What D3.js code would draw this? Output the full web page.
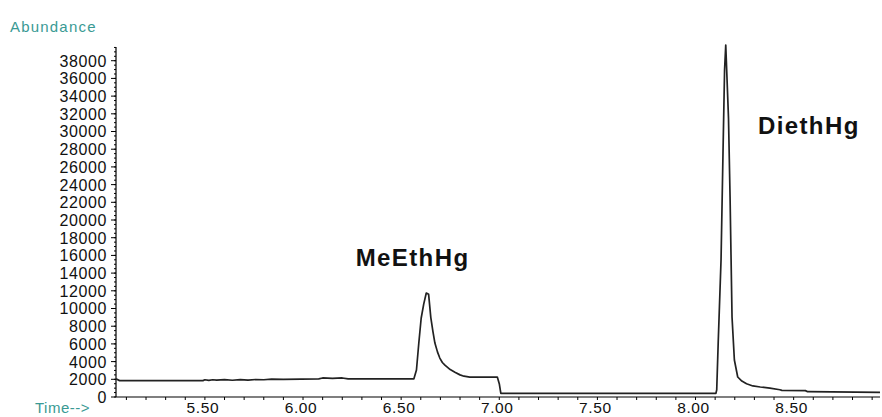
<!DOCTYPE html>
<html>
<head>
<meta charset="utf-8">
<script src="https://cdn.jsdelivr.net/npm/d3@7/dist/d3.min.js"></script>
<style>
  html, body { margin: 0; padding: 0; background: #fff; }
  svg { display: block; }
</style>
</head>
<body>
<svg id="chart" width="882" height="417"></svg>
<script>
// ---- data ----
const times = [
  5.047, 5.065, 5.490, 5.500, 5.520, 5.540, 5.560, 5.600, 5.640, 5.680, 5.720, 5.760,
  5.800, 5.840, 5.900, 6.080, 6.100, 6.150, 6.200, 6.230, 6.565,
  6.578, 6.590, 6.602, 6.615, 6.628, 6.640, 6.651, 6.662, 6.672, 6.685, 6.697, 6.710,
  6.723, 6.750, 6.774, 6.800, 6.820, 6.850, 6.990, 7.000, 7.008, 7.014,
  8.104, 8.108, 8.116, 8.130, 8.140, 8.148, 8.154, 8.168, 8.176, 8.186, 8.198, 8.215,
  8.236, 8.260, 8.292, 8.330, 8.379, 8.430, 8.440, 8.560, 8.571, 8.940
];
const abundance = [
  2050, 1850, 1850, 1950, 1880, 1950, 1900, 1960, 1890, 1960, 1900, 1980,
  1950, 2020, 2000, 2050, 2150, 2100, 2150, 2050, 2050,
  3050, 6100, 8900, 10500, 11750, 11600, 9000, 7400, 6100, 5100, 4400, 3900,
  3600, 3100, 2800, 2500, 2350, 2250, 2250, 1500, 420, 420,
  420, 800, 6440, 15480, 27570, 36950, 39770, 31520, 22600, 9040, 4180, 2260,
  1800, 1500, 1250, 1130, 1000, 820, 750, 720, 600, 520
];
const yTickValues = d3.range(0, 38001, 2000);
const yMinorValues = d3.range(0, 39501, 500);
const xTickValues = [5.5, 6.0, 6.5, 7.0, 7.5, 8.0, 8.5];
const xMinorValues = d3.range(51, 90).map(d => d / 10);
const peakLabels = ["MeEthHg", "DiethHg"];
const peakLabelTimes = [6.63, 8.16];
const peakLabelValues = [14800, 29700];

(function () {
// ---- layout ----
const svg = d3.select("#chart");
const mLeft = 116, mRight = 880, mTop = 47, mBottom = 397;
const teal = "#3a9a94";

const x = d3.scaleLinear().domain([5.047, 8.94]).range([mLeft, mRight]);
const y = d3.scaleLinear().domain([0, 39550]).range([mBottom, mTop]);

// y axis
const yAxis = svg.append("g").attr("transform", `translate(${mLeft},0)`);
yAxis.append("line").attr("x1", 0).attr("x2", 0).attr("y1", mTop).attr("y2", mBottom)
  .attr("stroke", "#000").attr("stroke-width", 1.2);
yAxis.selectAll("line.minor").data(yMinorValues).enter().append("line")
  .attr("class", "minor")
  .attr("x1", -2).attr("x2", 0)
  .attr("y1", d => y(d)).attr("y2", d => y(d))
  .attr("stroke", "#000").attr("stroke-width", 1);
yAxis.selectAll("line.major").data(yTickValues).enter().append("line")
  .attr("class", "major")
  .attr("x1", -5).attr("x2", 0)
  .attr("y1", d => y(d)).attr("y2", d => y(d))
  .attr("stroke", "#000").attr("stroke-width", 1);
yAxis.selectAll("text").data(yTickValues).enter().append("text")
  .attr("x", -9).attr("y", d => y(d))
  .attr("dy", "0.37em")
  .attr("text-anchor", "end")
  .attr("font-family", "Liberation Sans, Arial, sans-serif")
  .attr("font-size", 16)
  .attr("letter-spacing", 0.6)
  .attr("fill", "#111")
  .text(d => String(d));

// x axis
const xAxis = svg.append("g").attr("transform", `translate(0,${mBottom})`);
xAxis.append("line").attr("x1", mLeft).attr("x2", mRight).attr("y1", 0).attr("y2", 0)
  .attr("stroke", "#000").attr("stroke-width", 1.2);
xAxis.selectAll("line.tick").data(xMinorValues).enter().append("line")
  .attr("class", "tick")
  .attr("x1", d => x(d)).attr("x2", d => x(d))
  .attr("y1", 0).attr("y2", 3)
  .attr("stroke", "#000").attr("stroke-width", 1);
xAxis.selectAll("text").data(xTickValues).enter().append("text")
  .attr("x", d => x(d) - 2).attr("y", 16)
  .attr("text-anchor", "middle")
  .attr("font-family", "Liberation Sans, Arial, sans-serif")
  .attr("font-size", 15.5)
  .attr("letter-spacing", 0.6)
  .attr("fill", "#111")
  .text(d => d.toFixed(2));

// trace
const pts = times.map((t, i) => [t, abundance[i]]);
const line = d3.line().x(d => x(d[0])).y(d => y(d[1]));
svg.append("path").datum(pts)
  .attr("d", line)
  .attr("fill", "none")
  .attr("stroke", "#222")
  .attr("stroke-width", 1.7)
  .attr("stroke-linejoin", "round");

// axis titles
svg.append("text").attr("x", 10).attr("y", 32)
  .attr("font-family", "Liberation Sans, Arial, sans-serif")
  .attr("font-size", 15)
  .attr("letter-spacing", 1.2)
  .attr("fill", teal)
  .text("Abundance");
svg.append("text").attr("x", 35).attr("y", 413)
  .attr("font-family", "Liberation Sans, Arial, sans-serif")
  .attr("font-size", 15)
  .attr("letter-spacing", 0.5)
  .attr("fill", teal)
  .text("Time-->");

// peak labels
svg.selectAll("text.peak").data(peakLabels).enter().append("text")
  .attr("class", "peak")
  .attr("x", (d, i) => x(peakLabelTimes[i]) + (i === 0 ? -71 : 31))
  .attr("y", (d, i) => y(peakLabelValues[i]))
  .attr("font-family", "Liberation Sans, Arial, sans-serif")
  .attr("font-weight", "bold")
  .attr("font-size", 24)
  .attr("letter-spacing", 1.4)
  .attr("fill", "#111")
  .text(d => d);
})();
</script>
</body>
</html>
